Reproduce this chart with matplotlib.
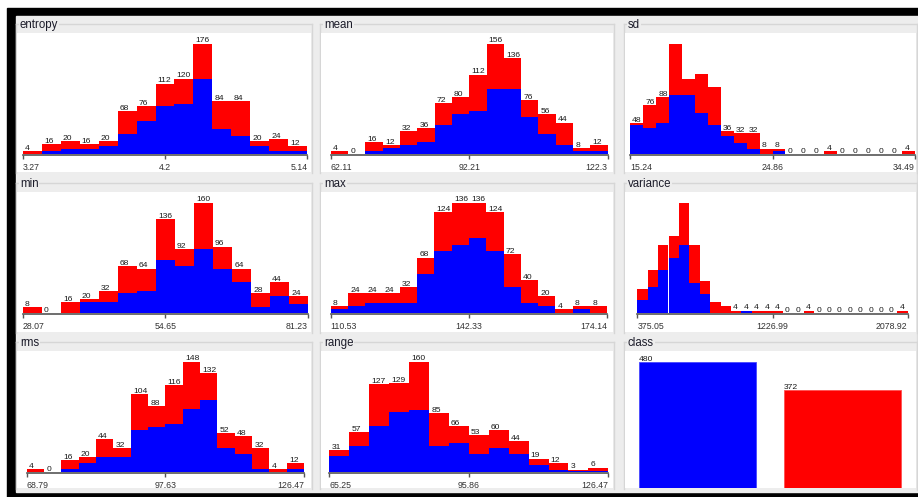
import numpy as np
import matplotlib
matplotlib.use('Agg')
import matplotlib.pyplot as plt
from matplotlib.patches import Rectangle

plt.rcParams['font.family'] = ['Liberation Sans', 'DejaVu Sans']

## bin counts for every attribute: total per bin, and the part of class 1 (blue)
entropy_tot = [4, 16, 20, 16, 20, 68, 76, 112, 120, 176, 84, 84, 20, 24, 12]
entropy_blue = [0, 4, 8, 8, 12, 32, 52, 76, 80, 120, 40, 28, 12, 4, 4]
entropy_ticks = ['3.27', '4.2', '5.14']

mean_tot = [4, 0, 16, 12, 32, 36, 72, 80, 112, 156, 136, 76, 56, 44, 8, 12]
mean_blue = [0, 0, 4, 8, 12, 16, 40, 56, 60, 92, 92, 52, 28, 12, 4, 4]
mean_ticks = ['62.11', '92.21', '122.3']

sd_tot = [48, 76, 88, 172, 116, 124, 104, 36, 32, 32, 8, 8, 0, 0, 0, 4, 0, 0, 0, 0, 0, 4]
sd_blue = [44, 40, 48, 92, 92, 64, 44, 28, 16, 8, 0, 4, 0, 0, 0, 0, 0, 0, 0, 0, 0, 0]
sd_ticks = ['15.24', '24.86', '34.49']

min_tot = [8, 0, 16, 20, 32, 68, 64, 136, 92, 160, 96, 64, 28, 44, 24]
min_blue = [0, 0, 0, 16, 16, 28, 32, 76, 68, 92, 64, 44, 8, 24, 12]
min_ticks = ['28.07', '54.65', '81.23']

max_tot = [8, 24, 24, 24, 32, 68, 124, 136, 136, 124, 72, 40, 20, 4, 8, 8]
max_blue = [4, 8, 12, 12, 12, 48, 76, 84, 92, 76, 32, 12, 8, 0, 4, 0]
max_ticks = ['110.53', '142.33', '174.14']

variance_tot = [44, 80, 128, 144, 208, 128, 60, 20, 12, 4, 4, 4, 4, 4, 0, 0, 4,
                0, 0, 0, 0, 0, 0, 0, 0, 4]
variance_blue = [24, 48, 80, 104, 128, 56, 36, 0, 0, 0, 4, 0, 0, 0, 0, 0, 0,
                 0, 0, 0, 0, 0, 0, 0, 0, 0]
variance_ticks = ['375.05', '1226.99', '2078.92']

rms_tot = [4, 0, 16, 20, 44, 32, 104, 88, 116, 148, 132, 52, 48, 32, 4, 12]
rms_blue = [0, 0, 4, 12, 20, 20, 56, 60, 64, 84, 96, 32, 24, 4, 0, 4]
rms_ticks = ['68.79', '97.63', '126.47']

range_tot = [31, 57, 127, 129, 160, 85, 66, 53, 60, 44, 19, 12, 3, 6]
range_blue = [23, 37, 67, 86, 89, 37, 42, 25, 34, 25, 10, 3, 1, 1]
range_ticks = ['65.25', '95.86', '126.47']

class_counts = [480, 372]

## layout in pixels
W, H = 918, 497
col_px = [(17, 311), (321, 613), (625, 916)]
row_px = [(33, 172), (192, 332), (351, 488)]
BLUE, RED = '#0000ff', '#ff0000'
GREY = '#ededed'

fig = plt.figure(figsize=(W / 100, H / 100), dpi=100)
bg = fig.add_axes([0, 0, 1, 1])
bg.set_xlim(0, W)
bg.set_ylim(H, 0)
bg.axis('off')
bg.add_patch(Rectangle((7, 8), W - 7, H - 8, color='black'))
bg.add_patch(Rectangle((16, 16), W - 16, 476, color=GREY))
bg.plot([916.5, 916.5], [33, 490], color='#dcdcdc', lw=1)


def frame(col, row, title):
    x0, x1 = col_px[col]
    y0, y1 = row_px[row]
    ty = y0 - 8
    bg.plot([x0 - 1, x1 + 1], [ty - 1, ty - 1], color='#d6d6d6', lw=1)
    bg.plot([x0 - 1, x0 - 1], [ty - 1, y1 + 1], color='#d6d6d6', lw=1)
    bg.plot([x1 + 1, x1 + 1], [ty - 1, y1 + 1], color='#d6d6d6', lw=1)
    bg.text(x0 + 3, ty, title, fontsize=8.3, va='center', ha='left', color='#1c1c2a',
            bbox=dict(facecolor=GREY, edgecolor='none', pad=0.6))


def panel_axes(col, row):
    x0, x1 = col_px[col]
    y0, y1 = row_px[row]
    return fig.add_axes([x0 / W, 1 - y1 / H, (x1 - x0) / W, (y1 - y0) / H])


def hist(col, row, title, tot, blue, ticks, span):
    frame(col, row, title)
    ax = panel_axes(col, row)
    x0, x1 = col_px[col]
    y0, y1 = row_px[row]
    tot = np.array(tot)
    blue = np.array(blue)
    red = tot - blue
    n = len(tot)
    L, R = span
    bw = (R - L) / n
    ax.set_xlim(-(L - x0) / bw, n + (x1 - R) / bw)
    k = tot.max() / 110.0
    ax.set_ylim(-(y1 - y0 - 120.7) * k, tot.max() + 10.5 * k)
    idx = np.arange(n)
    ax.bar(idx, blue, width=1, align='edge', color=BLUE, linewidth=0)
    ax.bar(idx, red, bottom=blue, width=1, align='edge', color=RED, linewidth=0)
    for s in ['left', 'right', 'top']:
        ax.spines[s].set_visible(False)
    sp = ax.spines['bottom']
    sp.set_position(('data', -1.3 * k))
    sp.set_bounds(0, n)
    sp.set_color('#555555')
    sp.set_linewidth(1.2)
    ax.set_yticks([])
    ax.set_xticks([0, n / 2, n], ticks)
    ax.tick_params(axis='x', length=3, width=1, color='#555555', labelsize=6.3,
                   labelcolor='#333333', pad=2.8)
    labs = ax.get_xticklabels()
    labs[0].set_ha('left')
    labs[2].set_ha('right')
    # counts only where the number fits inside the bar
    for i, t in enumerate(tot):
        s = str(t)
        if (len(s) + 1) * 4.2 < bw:
            ax.annotate(s, (i, t), xytext=(1.6, 0.8), textcoords='offset points',
                        fontsize=6.1, ha='left', va='baseline', color='#1a1a1a')


hist(0, 0, 'entropy', entropy_tot, entropy_blue, entropy_ticks, (22.7, 307.3))
hist(1, 0, 'mean', mean_tot, mean_blue, mean_ticks, (330.7, 607.7))
hist(2, 0, 'sd', sd_tot, sd_blue, sd_ticks, (630, 915))
hist(0, 1, 'min', min_tot, min_blue, min_ticks, (22.7, 308))
hist(1, 1, 'max', max_tot, max_blue, max_ticks, (330.7, 607.3))
hist(2, 1, 'variance', variance_tot, variance_blue, variance_ticks, (637.3, 907.7))
hist(0, 2, 'rms', rms_tot, rms_blue, rms_ticks, (26.7, 304))
hist(1, 2, 'range', range_tot, range_blue, range_ticks, (329.3, 608.3))

# class distribution
frame(2, 2, 'class')
axc = panel_axes(2, 2)
x0, x1 = col_px[2]
y0, y1 = row_px[2]
slot, cw = 145.0, 117.0
left = -(639 - x0) / slot
axc.set_xlim(left, left + (x1 - x0) / slot)
axc.set_ylim(0, max(class_counts) * (y1 - y0) / 126.0)
axc.bar(np.arange(2), class_counts, width=cw / slot, align='edge',
        color=[BLUE, RED], edgecolor=['#4646ff', '#ff5050'], linewidth=0.6)
for i, c in enumerate(class_counts):
    axc.annotate(str(c), (i, c), xytext=(0, 0.8), textcoords='offset points',
                 fontsize=6.1, ha='left', va='baseline', color='#1a1a1a')
axc.set_xticks([])
axc.set_yticks([])
for s in axc.spines.values():
    s.set_visible(False)

fig.savefig('out.png', dpi=100)
